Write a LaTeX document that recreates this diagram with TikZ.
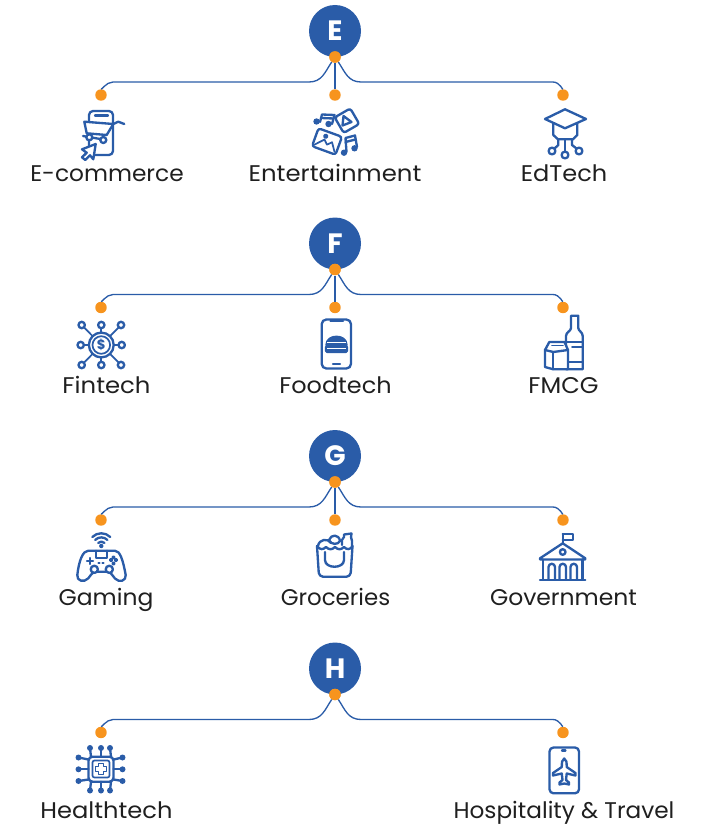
\documentclass[tikz,border=0pt]{standalone}
\usepackage{fontspec}
\usepackage{graphicx}
\setmainfont{Poppins}
\definecolor{ink}{HTML}{2A5CA8}
\definecolor{dotc}{HTML}{F7941E}
\definecolor{txt}{HTML}{1F1F1F}
\tikzset{
  hub/.style={circle,fill=ink,minimum size=39pt,inner sep=0pt,text=white,font=\fontsize{21}{21}\selectfont\bfseries},
  dotn/.style={circle,fill=dotc,minimum size=8.6pt,inner sep=0pt},
  conn/.style={draw=ink,line width=1pt},
  lab/.style={anchor=base,text=txt,font=\fontsize{17}{17}\selectfont,inner sep=0pt},
  ic/.style={draw=ink,line width=1.75pt,line join=round,line cap=round},
  icf/.style={ic,fill=white},
  icthin/.style={draw=ink,line width=1.3pt,line join=round,line cap=round}
}
\newcommand{\lbl}[2]{\scalebox{#1}[1]{#2}}
\newcommand{\hubgroup}[3]{%
  \begin{scope}[shift={(0,#3)}]
    \node[hub] (#1hub) at (335,31) {#2};
    \node[dotn] (#1bot) at (335,57) {};
    \node[dotn] (#1left) at (101,95) {};
    \node[dotn] (#1right) at (563,95) {};
    \draw[conn] (#1bot) .. controls +(-10,15) and +(13,0) .. ++(-26,25) -- ++(-196,0) .. controls +(-7,0) and +(0,-4) .. (#1left);
    \draw[conn] (#1bot) .. controls +(10,15) and +(-13,0) .. ++(26,25) -- ++(192,0) .. controls +(7,0) and +(0,-4) .. (#1right);
    \node[dotn] at (335,57) {};
  \end{scope}}
\newcommand{\midbranch}[2]{%
  \begin{scope}[shift={(0,#2)}]
    \node[dotn] (#1mid) at (335,95) {};
    \draw[conn] (#1bot) -- (#1mid);
  \end{scope}}
\begin{document}
\begin{tikzpicture}[x=0.75pt,y=-0.75pt]
\useasboundingbox (0,0) rectangle (708,824);
\hubgroup{e}{E}{0}\midbranch{e}{0}
\hubgroup{f}{F}{212.5}\midbranch{f}{212.5}
\hubgroup{g}{G}{425}\midbranch{g}{425}
\hubgroup{h}{H}{637.5}
% labels
\node[lab] (l1) at (107,181) {\lbl{1.027}{E-commerce}};
\node[lab] (l2) at (335,181) {\lbl{1.075}{Entertainment}};
\node[lab] (l3) at (564,181) {\lbl{1.06}{EdTech}};
\node[lab] (l4) at (106.5,393) {\lbl{1.074}{Fintech}};
\node[lab] (l5) at (335.5,393) {\lbl{1.057}{Foodtech}};
\node[lab] (l6) at (563.5,393) {\lbl{1.06}{FMCG}};
\node[lab] (l7) at (106,605) {\lbl{1.033}{Gaming}};
\node[lab] (l8) at (335.5,605) {\lbl{1.01}{Groceries}};
\node[lab] (l9) at (563.5,605) {\lbl{1.035}{Government}};
\node[lab] (l10) at (106.5,818) {\lbl{1.065}{Healthtech}};
\node[lab] (l11) at (564,818) {\lbl{1.023}{Hospitality \& Travel}};
% e-commerce
\draw[ic,rounded corners=3pt] (89,111) rectangle (113,155);
\draw[ic] (95,115.5) -- (108,115.5);
\draw[icf] (84.3,121.7) -- (86.7,133.3) -- (106.7,135) -- (113.3,124) -- cycle;
\draw[ic] (113.3,124) -- (118.3,121.7) -- (124.3,124);
\draw[ic] (83,136) -- (106,140);
\draw[icf] (89.3,137.3) circle (3);
\draw[icf] (103.3,140) circle (3);
\draw[icf] (95.7,144) -- (82,149.3) -- (86.7,152.7) -- (82,157.3) -- (85.3,160) -- (90,155.3) -- (93.3,159.3) -- cycle;
% entertainment
\draw[ic] (320,122) -- (322,114.5) -- (334.5,115) -- (332,124);
\draw[ic] (321.5,118) -- (333.5,118.5);
\fill[ink] (316.5,121.5) circle (3.2);
\fill[ink] (328.5,124) circle (3.2);
\begin{scope}[shift={(347,120.7)},rotate=30]
\draw[ic,rounded corners=2pt] (-9,-9) rectangle (9,9);
\end{scope}
\draw[ic] (343.5,116) -- (351.5,122) -- (342.5,125.5) -- cycle;
\begin{scope}[shift={(327,141.5)},rotate=-20]
\draw[ic,rounded corners=2pt] (-12.5,-9.5) rectangle (12.5,9.5);
\draw[icthin] (-10.5,7) -- (-3,-1) -- (1,3) -- (5,-1) -- (10.5,7);
\fill[ink] (-3,-4.5) circle (2.6);
\end{scope}
\draw[ic] (346.5,152) -- (345.5,138) -- (355,135.5) -- (357,147);
\draw[ic] (345.5,142) -- (355.5,139.5);
\fill[ink] (344,152.7) circle (3.2);
\fill[ink] (354.5,148.3) circle (3.2);
% edtech
\draw[ic] (553.3,123.3) -- (553.3,135) -- (558,139.3) -- (573,139.3) -- (577.3,135) -- (577.3,123.3);
\draw[icf] (545,119) -- (565,109.3) -- (586,119) -- (565,128.3) -- cycle;
\draw[ic] (565,139.3) -- (565,151.5);
\draw[ic] (558.3,139.3) -- (558.3,145) -- (554.5,148.5);
\draw[ic] (572,139.3) -- (572,145) -- (576.5,148.5);
\draw[ic] (565,155) circle (3.4);
\draw[ic] (552,151) circle (3.4);
\draw[ic] (579,151) circle (3.4);
% fintech
\foreach \a/\b in {101.3/325,101.3/365,80.7/345,121.7/345,81.7/325,121/325,81.7/365,121/365}{
  \draw[icthin] (101.3,345) -- (\a,\b);
  \draw[icf] (\a,\b) circle (3.2);
}
\draw[icf] (101.3,345) circle (12.4);
\draw[icthin] (101.3,345) circle (8.8);
\node[inner sep=0pt,text=ink,font=\fontsize{10}{10}\selectfont\bfseries] (dollar) at (101.3,345) {\$};
% foodtech
\draw[ic,rounded corners=3.5pt] (321.7,319.5) rectangle (351,368.5);
\draw[ic] (330.5,321) -- (343,321);
\draw[ic] (333,364.3) -- (340,364.3);
\draw[ic,fill=ink] (326.5,345) .. controls (326.5,334) and (346.5,334) .. (346.5,345) -- cycle;
\draw[ic,fill=ink,rounded corners=1pt] (326,346) rectangle (347,352);
\draw[draw=white,line width=.6pt] (327,342.5) -- (346,342.5) (327,348.5) -- (346,348.5);
% fmcg
\draw[ic] (571,315.7) -- (578.3,315.7) -- (578.3,328) .. controls (578.3,331) and (582.7,332) .. (582.7,336) -- (582.7,369.3) -- (566,369.3) -- (566,336) .. controls (566,332) and (571,331) .. (571,328) -- cycle;
\draw[icthin] (566,341.7) -- (582.7,341.7) (566,361.7) -- (582.7,361.7) (572,347) -- (582.7,347);
\draw[icf] (549.3,342) -- (564.5,342) -- (568,350) -- (568,369.3) -- (553.3,369.3) -- (545,367) -- (545,350) -- cycle;
\draw[ic] (545,350) -- (553.3,352) -- (568,350);
\draw[ic] (553.3,352) -- (553.3,369.3);
\draw[icthin] (552,345.5) -- (563,345.5);
% gaming
\draw[ic] (88.3,550.7) -- (115,550.7) .. controls (120,550.7) and (123,560) .. (125.7,575) .. controls (126.5,581) and (119,583) .. (115,578.5) .. controls (112,575) and (111,572) .. (106.7,571.7) -- (96.7,571.7) .. controls (92,572) and (91,575) .. (88.3,578.3) .. controls (84,583) and (76.5,581) .. (77.3,575) .. controls (79,560) and (83,550.7) .. (88.3,550.7) -- cycle;
\draw[ic] (96,550.7) -- (96,558.3) -- (106.7,558.3) -- (106.7,550.7);
\draw[icf] (94.3,569.3) circle (3.6);
\draw[icf] (109.3,569.3) circle (3.6);
\draw[ic] (87,561) -- (93,561) (90,558) -- (90,564);
\draw[icthin,fill=ink] (116,560) circle (1.3) (111,560) circle (1.3) (113.5,557.5) circle (1.3) (113.5,563.5) circle (1.3);
\draw[ic] (98.5,563.3) -- (99.5,563.3) (102.5,563.3) -- (103.5,563.3);
\fill[ink] (101.3,546) circle (2.2);
\draw[ic] (98.2,542.9) arc[start angle=225,end angle=315,radius=4.4];
\draw[ic] (95.2,539.9) arc[start angle=225,end angle=315,radius=8.6];
\draw[ic] (92.3,537) arc[start angle=225,end angle=315,radius=12.7];
% groceries
\draw[ic] (318,546) .. controls (319,539) and (328,538) .. (331,543);
\draw[ic] (329,540) .. controls (331,534) and (339,534) .. (340,541) .. controls (338,545) and (331,545) .. (329,540);
\draw[ic] (342,545) -- (342,540) -- (344,537) -- (344,534.5) -- (351.5,533.5) -- (351,537) -- (352,541) -- (352,546);
\draw[ic,rounded corners=3pt] (317,546) -- (319,576.7) -- (350.5,576.7) -- (352.5,546);
\draw[ic] (317,546) .. controls (320,550) and (323,550) .. (326,547) .. controls (329,550) and (332,550) .. (335,547) .. controls (338,550) and (341,550) .. (344,547) .. controls (347,550) and (350,550) .. (352.5,546);
\draw[ic] (325,552) -- (325,560) .. controls (325,569) and (344,569) .. (344,560) -- (344,552);
% government
\draw[ic] (562.7,534) -- (562.7,543.3);
\draw[ic] (562.7,534) -- (572.7,534) -- (572.7,540) -- (562.7,540);
\draw[ic] (540,558.3) -- (562.7,543.3) -- (585.3,558.3) -- (585.3,559.5) -- (540,559.5) -- cycle;
\draw[ic] (562.7,552) circle (2.8);
\draw[ic] (543,559.5) -- (543,579.5) (582.5,559.5) -- (582.5,579.5) (540,580) -- (585.3,580);
\foreach \l/\r in {548.5/555,559.5/566,570.5/577}{
  \draw[ic] (\l,579) -- (\l,567) arc[start angle=180,end angle=360,radius={(\r-\l)/2}] -- (\r,579);
}
% healthtech
\draw[ic,rounded corners=3pt] (88.5,756.7) rectangle (113.5,781.7);
\draw[icthin,rounded corners=1.5pt] (92.5,760.5) rectangle (109.5,777.5);
\draw[icthin] (98.5,763.5) -- (103.5,763.5) -- (103.5,766.5) -- (106.5,766.5) -- (106.5,771.5) -- (103.5,771.5) -- (103.5,774.5) -- (98.5,774.5) -- (98.5,771.5) -- (95.5,771.5) -- (95.5,766.5) -- (98.5,766.5) -- cycle;
\foreach \x/\e in {91/90,101/101,111/110}{
  \draw[ic] (\x,756.7) -- (\e,748);
  \draw[ic] (\x,781.7) -- (\e,790.5);
  \fill[ink] (\e,748) circle (3);
  \fill[ink] (\e,790.5) circle (3);
}
\foreach \y/\e in {759.5/757.5,769.3/769.3,779.5/781}{
  \draw[ic] (88.5,\y) -- (78.5,\e);
  \draw[ic] (113.5,\y) -- (122.5,\e);
  \fill[ink] (78.5,\e) circle (3);
  \fill[ink] (122.5,\e) circle (3);
}
% hospitality
\draw[ic,rounded corners=3pt] (549.5,747.5) rectangle (579,793.3);
\draw[ic] (562,750.5) -- (565.5,750.5);
\draw[ic] (564.2,758.5) .. controls (566.5,760) and (566.7,762) .. (566.7,767) -- (575.5,773) -- (575.5,775.5) -- (566.7,773.5) -- (566,780) -- (569,782.5) -- (569,784.5) -- (564.2,783.5) -- (559.5,784.5) -- (559.5,782.5) -- (562.5,780) -- (561.8,773.5) -- (553,775.5) -- (553,773) -- (561.8,767) .. controls (561.8,762) and (562,760) .. (564.2,758.5) -- cycle;
\end{tikzpicture}
\end{document}
